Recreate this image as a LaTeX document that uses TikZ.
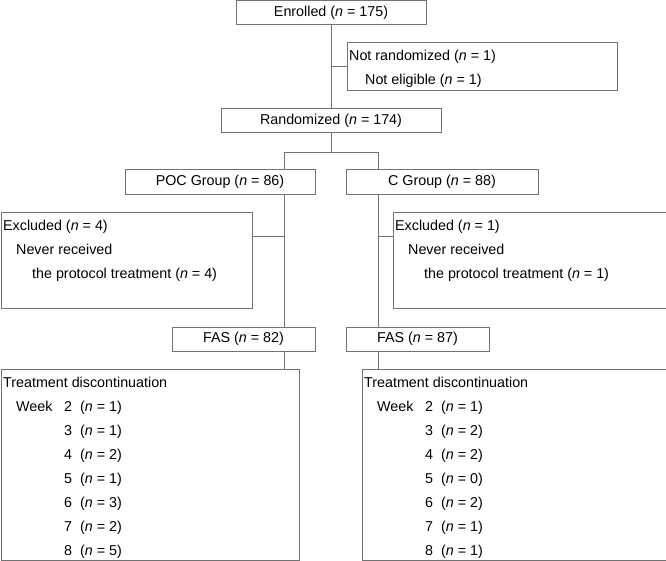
\documentclass[tikz,border=0pt]{standalone}
\usepackage{fontspec}
\setmainfont{Liberation Sans}
\tikzstyle{boxc}=[draw=black!55,line width=0.8pt,minimum height=24pt,inner sep=0pt,font=\fontsize{14.3}{24}\selectfont]
\tikzstyle{boxf}=[draw=black!55,line width=0.8pt,anchor=north west,inner sep=0pt]
\tikzstyle{txtl}=[anchor=north west,inner sep=0pt,align=left,font=\fontsize{14.3}{24}\selectfont]
\tikzstyle{link}=[draw=black!55,line width=0.8pt]
\newcommand{\nn}[1]{(\textit{n} = #1)}
\newcommand{\wkrow}[3]{\hspace*{13pt}\makebox[48pt][l]{#1}\makebox[16pt][l]{#2}\nn{#3}}

\begin{document}
\begin{tikzpicture}[x=1pt,y=-1pt]
    \useasboundingbox (0,0) rectangle (666,561);
    % one-line boxes
    \node[boxc,minimum width=190pt] (enrolled) at (331,12.5) {Enrolled \nn{175}};
    \node[boxc,minimum width=220pt] (random) at (331,120.5) {Randomized \nn{174}};
    \node[boxc,minimum width=190pt,minimum height=25pt] (pocgrp) at (220,181.5) {POC Group \nn{86}};
    \node[boxc,minimum width=192pt,minimum height=25pt] (cgrp) at (442,181.5) {C Group \nn{88}};
    \node[boxc,minimum width=143pt] (fasp) at (243.5,339) {FAS \nn{82}};
    \node[boxc,minimum width=143pt] (fasc) at (417.5,339) {FAS \nn{87}};

    % boxes with text at the top left
    \node[boxf,minimum width=270pt,minimum height=48pt] (notrand) at (347,42) {};
    \node[txtl] (notrandtxt) at ([shift={(2pt,-7.5pt)}]notrand.north west)
        {Not randomized \nn{1}\\\hspace*{16pt}Not eligible \nn{1}};
    \node[boxf,minimum width=251.5pt,minimum height=96pt] (exclp) at (0.5,212) {};
    \node[txtl] (exclptxt) at ([shift={(2.5pt,-7.5pt)}]exclp.north west)
        {Excluded \nn{4}\\\hspace*{13pt}Never received\\\hspace*{29pt}the protocol treatment \nn{4}};
    \node[boxf,minimum width=272.5pt,minimum height=96pt] (exclc) at (393,212) {};
    \node[txtl] (exclctxt) at ([shift={(2pt,-7.5pt)}]exclc.north west)
        {Excluded \nn{1}\\\hspace*{13pt}Never received\\\hspace*{29pt}the protocol treatment \nn{1}};
    \node[boxf,minimum width=298.5pt,minimum height=191pt] (discp) at (0.5,369) {};
    \node[txtl] (discptxt) at ([shift={(2.5pt,-7.5pt)}]discp.north west)
        {Treatment discontinuation\\\wkrow{Week}{2}{1}\\\wkrow{}{3}{1}\\\wkrow{}{4}{2}\\
         \wkrow{}{5}{1}\\\wkrow{}{6}{3}\\\wkrow{}{7}{2}\\\wkrow{}{8}{5}};
    \node[boxf,minimum width=303.5pt,minimum height=191pt] (discc) at (362,369) {};
    \node[txtl] (discctxt) at ([shift={(2pt,-7.5pt)}]discc.north west)
        {Treatment discontinuation\\\wkrow{Week}{2}{1}\\\wkrow{}{3}{2}\\\wkrow{}{4}{2}\\
         \wkrow{}{5}{0}\\\wkrow{}{6}{2}\\\wkrow{}{7}{1}\\\wkrow{}{8}{1}};

    % connectors
    \coordinate (splitl) at (284,152);
    \coordinate (splitr) at (378,152);
    \coordinate (exclpin) at ([yshift=-24pt]exclp.north east);
    \coordinate (exclcin) at ([yshift=-24pt]exclc.north west);
    \draw[link] (enrolled) -- (random);
    \draw[link] (enrolled.south |- notrand.west) -- (notrand.west);
    \draw[link] (random.south) -- (random.south |- splitl);
    \draw[link] (splitl) -- (splitr);
    \foreach \s/\a/\b in {splitl/pocgrp/fasp,splitr/cgrp/fasc}
        \draw[link] (\s) -- (\s |- \a.north) (\s |- \a.south) -- (\s |- \b.north);
    \draw[link] (splitl |- fasp.south) -- (splitl |- discp.north);
    \draw[link] (splitr |- fasc.south) -- (splitr |- discc.north);
    \draw[link] (exclpin) -- (splitl |- exclpin);
    \draw[link] (splitr |- exclcin) -- (exclcin);
\end{tikzpicture}
\end{document}
